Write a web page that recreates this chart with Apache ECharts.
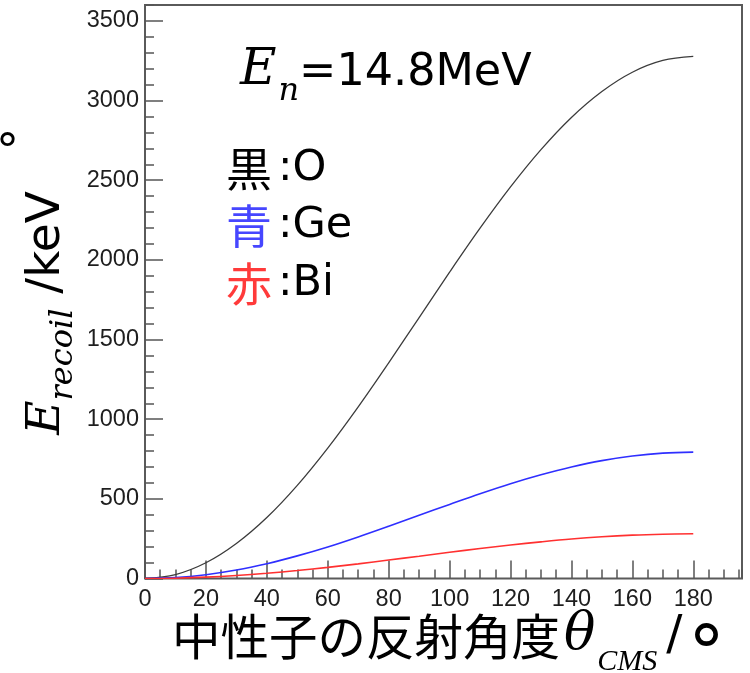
<!DOCTYPE html>
<html>
<head>
<meta charset="utf-8">
<script src="https://cdn.jsdelivr.net/npm/echarts@6/dist/echarts.min.js"></script>
<style>
  html, body { margin: 0; padding: 0; background: #fff; }
  #chart { width: 750px; height: 673px; }
</style>
</head>
<body>
<div id="chart"></div>
<script>
// Recoil energy (keV) versus CMS scattering angle (deg) for 14.8 MeV neutrons
const angles = [0, 10, 20, 30, 40, 50, 60, 70, 80, 90, 100, 110, 120, 130, 140, 150, 160, 170, 180];
const oxygen = [0, 25, 99, 220, 383, 585, 819, 1078, 1354, 1638, 1923, 2199, 2458, 2692, 2894, 3057, 3178, 3252, 3277];
const germanium = [0, 6, 24, 53, 93, 142, 198, 261, 328, 397, 465, 532, 595, 651, 700, 740, 769, 787, 793];
const bismuth = [0, 2, 8.5, 19, 33, 50, 70, 92, 116, 140, 165, 188, 210, 230, 248, 262, 272, 278, 281];

const xMax = 196, xMajor = 20, xMinor = 5;
const yMax = 3600, yMajor = 500, yMinor = 100;

const pairs = vals => angles.map((a, i) => [a, vals[i]]);

const latin = 'DejaVu Sans';
const cjk = '"Noto Sans CJK JP"';
const mathFont = '"DejaVu Serif"';
const narrowMath = '"Liberation Serif"';
const tickColor = '#555';
const labelColor = '#1e1e1e';

const chart = echarts.init(document.getElementById('chart'));

const majorTick = { show: true, inside: true, length: 18, lineStyle: { color: tickColor, width: 1.5 } };
const minorTickStyle = { show: true, inside: true, length: 9, lineStyle: { color: tickColor, width: 1.5 } };
const tickLabel = (step) => ({
  show: true,
  color: labelColor,
  fontFamily: '"Liberation Sans", Arial, sans-serif',
  fontSize: 23.5,
  formatter: v => (v % step === 0 ? String(v) : '')
});

chart.setOption({
  animation: false,
  backgroundColor: '#ffffff',
  grid: {
    left: 145, top: 5, width: 597, height: 573.5,
    show: true, borderColor: '#5a5a5a', borderWidth: 2, backgroundColor: 'transparent',
    containLabel: false
  },
  xAxis: [
    {
      type: 'value', min: 0, max: xMax, interval: xMajor,
      axisLine: { show: false, onZero: false },
      axisTick: majorTick,
      axisLabel: Object.assign(tickLabel(xMajor), { margin: 9, showMaxLabel: false }),
      splitLine: { show: false }
    },
    {
      type: 'value', min: 0, max: xMax, interval: xMinor, position: 'bottom',
      axisLine: { show: false, onZero: false },
      axisTick: minorTickStyle,
      axisLabel: { show: false },
      splitLine: { show: false }
    }
  ],
  yAxis: [
    {
      type: 'value', min: 0, max: yMax, interval: yMajor,
      axisLine: { show: false, onZero: false },
      axisTick: majorTick,
      axisLabel: Object.assign(tickLabel(yMajor), { margin: 6, showMaxLabel: false }),
      splitLine: { show: false }
    },
    {
      type: 'value', min: 0, max: yMax, interval: yMinor, position: 'left',
      axisLine: { show: false, onZero: false },
      axisTick: minorTickStyle,
      axisLabel: { show: false },
      splitLine: { show: false }
    }
  ],
  series: [
    {
      name: 'O', type: 'line', data: pairs(oxygen), smooth: 0.35, showSymbol: false,
      lineStyle: { color: '#3c3c3c', width: 1.3 }, z: 3
    },
    {
      name: 'Ge', type: 'line', data: pairs(germanium), smooth: 0.35, showSymbol: false,
      lineStyle: { color: '#2f2fff', width: 1.6 }, z: 3
    },
    {
      name: 'Bi', type: 'line', data: pairs(bismuth), smooth: 0.35, showSymbol: false,
      lineStyle: { color: '#ff3030', width: 1.6 }, z: 3
    }
  ],
  graphic: [
    // incident energy
    {
      type: 'text', left: 240, top: 46, z: 10,
      style: {
        text: '{e|E}{n|n}{t|=14.8MeV}',
        rich: {
          e: { fontFamily: mathFont, fontStyle: 'italic', fontSize: 50, lineHeight: 56, padding: [0, 2, 12, 0], verticalAlign: 'bottom', fill: '#000' },
          n: { fontFamily: mathFont, fontStyle: 'italic', fontSize: 32, lineHeight: 36, verticalAlign: 'bottom', fill: '#000' },
          t: { fontFamily: latin, fontSize: 44.5, lineHeight: 56, padding: [0, 0, 12, 0], verticalAlign: 'bottom', fill: '#000' }
        }
      }
    },
    // colour key
    {
      type: 'text', left: 226, top: 146, z: 10,
      style: {
        text: '{k|黒}{l|:O}',
        rich: {
          k: { fontFamily: cjk, fontSize: 46, fill: '#000', lineHeight: 58 },
          l: { fontFamily: latin, fontSize: 43, fill: '#000', lineHeight: 58, padding: [0, 0, 0, 6] }
        }
      }
    },
    {
      type: 'text', left: 226, top: 203, z: 10,
      style: {
        text: '{k|青}{l|:Ge}',
        rich: {
          k: { fontFamily: cjk, fontSize: 46, fill: '#4646ff', lineHeight: 58 },
          l: { fontFamily: latin, fontSize: 43, fill: '#000', lineHeight: 58, padding: [0, 0, 0, 6] }
        }
      }
    },
    {
      type: 'text', left: 226, top: 261, z: 10,
      style: {
        text: '{k|赤}{l|:Bi}',
        rich: {
          k: { fontFamily: cjk, fontSize: 46, fill: '#ff3a3a', lineHeight: 58 },
          l: { fontFamily: latin, fontSize: 43, fill: '#000', lineHeight: 58, padding: [0, 0, 0, 6] }
        }
      }
    },
    // x axis title
    {
      type: 'text', left: 172, top: 609, z: 10,
      style: {
        text: '{c|中性子の反射角度}{th|θ}{s|CMS}{u|/}',
        rich: {
          c: { fontFamily: cjk, fontSize: 48.5, lineHeight: 58, padding: [0, 4, 16, 0], verticalAlign: 'bottom', fill: '#000' },
          th: { fontFamily: mathFont, fontStyle: 'italic', fontSize: 52, lineHeight: 58, padding: [0, 2, 16, 0], verticalAlign: 'bottom', fill: '#000' },
          s: { fontFamily: narrowMath, fontStyle: 'italic', fontSize: 30, lineHeight: 38, verticalAlign: 'bottom', fill: '#000' },
          u: { fontFamily: latin, fontSize: 48, lineHeight: 58, padding: [0, 0, 16, 9], verticalAlign: 'bottom', fill: '#000' }
        }
      }
    },
    {
      type: 'text', left: 688, top: 622, z: 10,
      style: { text: '°', fontFamily: latin, fontSize: 74, fill: '#000' }
    },
    // y axis title
    {
      type: 'text', x: 53, y: 313, rotation: Math.PI / 2, z: 10,
      style: {
        text: '{e|E}{s|recoil}{u| /keV}',
        align: 'center', verticalAlign: 'middle',
        rich: {
          e: { fontFamily: mathFont, fontStyle: 'italic', fontSize: 47, lineHeight: 54, padding: [0, 0, 10, 0], verticalAlign: 'bottom', fill: '#000' },
          s: { fontFamily: mathFont, fontStyle: 'italic', fontSize: 32, lineHeight: 38, verticalAlign: 'bottom', fill: '#000' },
          u: { fontFamily: latin, fontSize: 47, lineHeight: 54, padding: [0, 0, 10, 0], verticalAlign: 'bottom', fill: '#000' }
        }
      }
    },
    // stray degree mark at the left edge
    {
      type: 'text', left: -4, top: 131, z: 10,
      style: { text: '°', fontFamily: latin, fontSize: 46, fill: '#000' }
    }
  ]
});
</script>
</body>
</html>
